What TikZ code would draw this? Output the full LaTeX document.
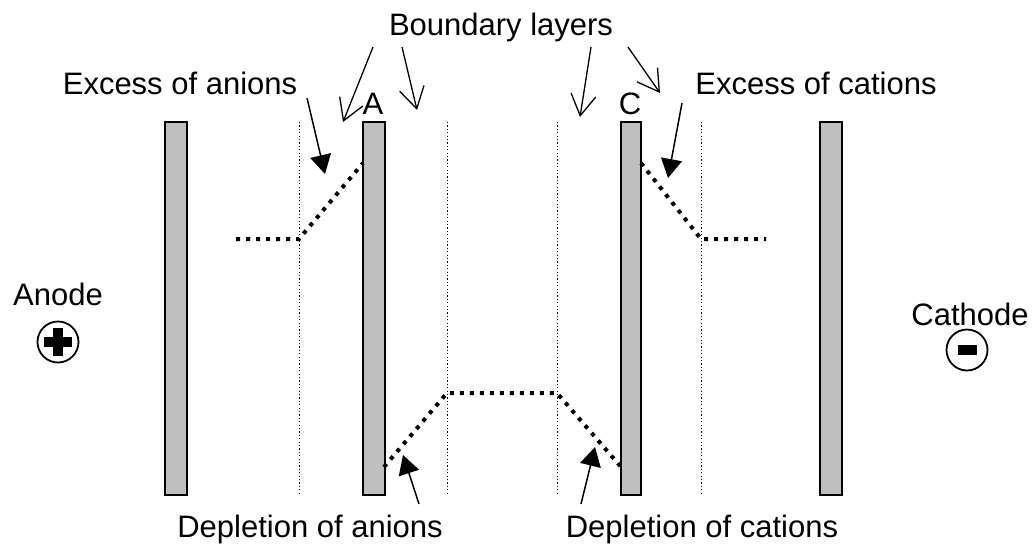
\documentclass[tikz,border=0pt]{standalone}
\usepackage{fontspec}
\setmainfont{Liberation Sans}
\usetikzlibrary{arrows.meta}
\begin{document}
\begin{tikzpicture}[x=1pt,y=-1pt,
  plate/.style={draw=black,line width=1.4pt,fill=black!25},
  layer/.style={line width=0.9pt,dash pattern=on 1.2pt off 2.2pt},
  profile/.style={line width=4pt,dash pattern=on 4pt off 6pt},
  lbl/.style={font=\fontsize{31}{37}\selectfont,anchor=base,inner sep=0pt},
  openarr/.style={line width=1.3pt,-{Straight Barb[length=21pt,width=25pt,line width=1.3pt]}},
  fillarr/.style={line width=1.5pt,-{Triangle[length=19pt,width=21pt]}}]
\useasboundingbox (0,0) rectangle (1034,544);
% plates
\draw[plate] (165,122) rectangle (187,495);
\draw[plate] (363,122) rectangle (385,495);
\draw[plate] (621,122) rectangle (641,495);
\draw[plate] (820,122) rectangle (842,495);
% boundary layer lines
\draw[layer] (299,122) -- (299,494);
\draw[layer] (447,122) -- (447,494);
\draw[layer] (557,122) -- (557,494);
\draw[layer] (701,122) -- (701,494);
% profiles
\draw[profile] (236,239) -- (299,239) -- (363,163);
\draw[profile] (641,163) -- (701,239) -- (766,239);
\draw[profile] (384,467) -- (447,393) -- (557,393) -- (621,467);
% labels
\node[lbl] (bl) at (501,35) {Boundary layers};
\node[lbl] (ea) at (180,94) {Excess of anions};
\node[lbl] (ec) at (816,94) {Excess of cations};
\node[lbl] (da) at (310,537) {Depletion of anions};
\node[lbl] (dc) at (702,537) {Depletion of cations};
\node[lbl] (A) at (373,114) {A};
\node[lbl] (C) at (630,114) {C};
\node[lbl] (an) at (58,305) {Anode};
\node[lbl] (ca) at (970,325) {Cathode};
% arrows
\coordinate (b1s) at (373,47); \coordinate (b1e) at (343,122);
\coordinate (b2s) at (402,47); \coordinate (b2e) at (417,110);
\coordinate (b3s) at (591,47); \coordinate (b3e) at (580,117);
\coordinate (b4s) at (628,47); \coordinate (b4e) at (660,93);
\draw[openarr] (b1s) -- (b1e);
\draw[openarr] (b2s) -- (b2e);
\draw[openarr] (b3s) -- (b3e);
\draw[openarr] (b4s) -- (b4e);
\coordinate (e1s) at (307,98); \coordinate (e1e) at (325,174);
\coordinate (e2s) at (682,103); \coordinate (e2e) at (668,178);
\coordinate (d1s) at (419,504); \coordinate (d1e) at (403,455);
\coordinate (d2s) at (581,504); \coordinate (d2e) at (595,447);
\draw[fillarr] (e1s) -- (e1e);
\draw[fillarr] (e2s) -- (e2e);
\draw[fillarr] (d1s) -- (d1e);
\draw[fillarr] (d2s) -- (d2e);
% electrodes
\node[draw,circle,line width=1.8pt,minimum size=41pt,inner sep=0pt] (plus) at (58,342) {};
\fill (plus.center) ++(-14,-5) rectangle ++(28,10);
\fill (plus.center) ++(-5,-14) rectangle ++(10,28);
\node[draw,circle,line width=1.8pt,minimum size=41pt,inner sep=0pt] (minus) at (967,350) {};
\fill (minus.center) ++(-9.5,-5) rectangle ++(19,10);
\end{tikzpicture}
\end{document}
